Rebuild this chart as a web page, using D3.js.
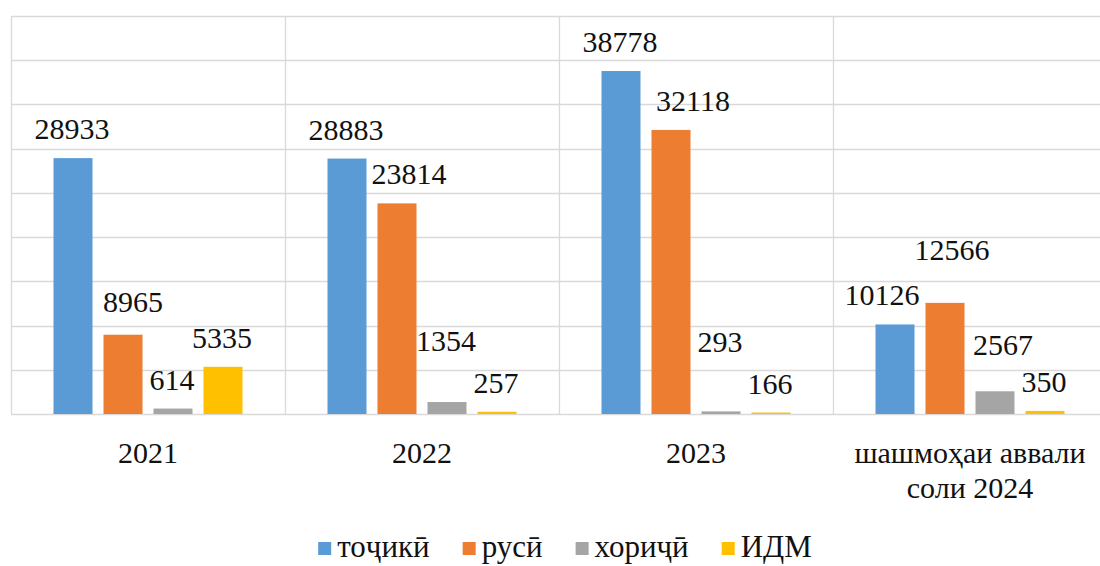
<!DOCTYPE html>
<meta charset="utf-8">
<head>
  <title>Bar chart</title>
</head>

<style>
body {
  margin: 0;
  background: #fff;
}
.grid line {
  stroke: #d9d9d9;
  stroke-width: 1.3;
}
</style>

<body>
  <svg width="1100" height="566"></svg>

  <script src="https://cdn.jsdelivr.net/npm/d3@7"></script>
  <script>
var width = 1100, height = 566
var serif = "'Liberation Serif', 'DejaVu Serif', 'Times New Roman', serif"

// data
var categories = ['2021', '2022', '2023', 'шашмоҳаи аввали соли 2024']
var categoryLines = [['2021'], ['2022'], ['2023'], ['шашмоҳаи аввали', 'соли 2024']]
var seriesNames = ['тоҷикӣ', 'русӣ', 'хориҷӣ', 'ИДМ']
var tojiki = [28933, 28883, 38778, 10126]
var rusi = [8965, 23814, 32118, 12566]
var khoriji = [614, 1354, 293, 2567]
var idm = [5335, 257, 166, 350]
var yTicks = [0, 5000, 10000, 15000, 20000, 25000, 30000, 35000, 40000, 45000]

var colors = ['#5b9bd5', '#ed7d31', '#a5a5a5', '#ffc000']
var values = [tojiki, rusi, khoriji, idm]

// hand placed label offsets in the original (category-series: [dx, dy])
var labelNudge = {
  '0-1': [11, -4],
  '1-1': [13, 0], '1-2': [0, -32],
  '2-1': [23, 0], '2-2': [0, -40],
  '3-0': [-12, 0], '3-1': [8, -24], '3-2': [9, -17]
}

var margin = {left: 11, right: -7, top: 16, bottom: 152}
var svg = d3.select('svg')
  .style('font-family', serif)

var x0 = d3.scaleBand()
  .domain(categories)
  .range([margin.left, width - margin.right])

var x1 = d3.scaleBand()
  .domain(seriesNames)
  .range([42.5, x0.bandwidth() - 42.5])
  .paddingInner(0.22)

var y = d3.scaleLinear()
  .domain([0, 45000])
  .range([height - margin.bottom, margin.top])

// gridlines
var grid = svg.append('g').attr('class', 'grid')
grid.selectAll('line.h')
  .data(yTicks)
  .enter().append('line')
  .attr('class', 'h')
  .attr('x1', margin.left)
  .attr('x2', width - margin.right)
  .attr('y1', function(d) { return Math.round(y(d)) + 0.5 })
  .attr('y2', function(d) { return Math.round(y(d)) + 0.5 })

var edges = categories.map(function(c) { return x0(c) }).concat([x0.range()[1]])
grid.selectAll('line.v')
  .data(edges)
  .enter().append('line')
  .attr('class', 'v')
  .attr('x1', function(d) { return Math.round(d) + 0.5 })
  .attr('x2', function(d) { return Math.round(d) + 0.5 })
  .attr('y1', y(45000))
  .attr('y2', y(0))

// bars
var rows = []
categories.forEach(function(c, ci) {
  seriesNames.forEach(function(s, si) {
    rows.push({c: c, ci: ci, s: s, si: si, v: values[si][ci]})
  })
})

svg.append('g')
  .selectAll('rect')
  .data(rows)
  .enter().append('rect')
  .attr('x', function(d) { return x0(d.c) + x1(d.s) })
  .attr('width', x1.bandwidth())
  .attr('y', function(d) { return y(d.v) })
  .attr('height', function(d) { return y(0) - y(d.v) })
  .attr('fill', function(d) { return colors[d.si] })

// value labels
svg.append('g')
  .selectAll('text')
  .data(rows)
  .enter().append('text')
  .style('font-family', serif)
  .attr('fill', '#111')
  .attr('text-anchor', 'middle')
  .attr('font-size', 30)
  .attr('x', function(d) {
    var n = labelNudge[d.ci + '-' + d.si] || [0, 0]
    return x0(d.c) + x1(d.s) + x1.bandwidth() / 2 - 1 + n[0]
  })
  .attr('y', function(d) {
    var n = labelNudge[d.ci + '-' + d.si] || [0, 0]
    return y(d.v) - 19 + n[1]
  })
  .text(function(d) { return d.v })

// category labels
var cat = svg.append('g')
  .selectAll('text')
  .data(categories)
  .enter().append('text')
  .style('font-family', serif)
  .attr('fill', '#111')
  .attr('text-anchor', 'middle')
  .attr('font-size', 30)
  .attr('x', function(d) { return x0(d) + x0.bandwidth() / 2 })
  .attr('y', 463)

cat.selectAll('tspan')
  .data(function(d, i) { return categoryLines[i] })
  .enter().append('tspan')
  .attr('x', function() { return d3.select(this.parentNode).attr('x') })
  .attr('dy', function(d, i) { return i === 0 ? 0 : 35 })
  .text(function(d) { return d })

// legend
var legend = svg.append('g')
var lx = 0
seriesNames.forEach(function(s, i) {
  var item = legend.append('g').attr('transform', 'translate(' + lx + ',0)')
  item.append('rect')
    .attr('x', 0)
    .attr('y', 542)
    .attr('width', 13)
    .attr('height', 13)
    .attr('fill', colors[i])
  var t = item.append('text')
    .style('font-family', serif)
    .attr('fill', '#111')
    .attr('x', 19)
    .attr('y', 557)
    .attr('font-size', 31)
    .text(s)
  lx += 19 + t.node().getComputedTextLength() + 33
})
var legendWidth = lx - 33
legend.attr('transform', 'translate(' + (565 - legendWidth / 2) + ',0)')
  </script>
</body>
</html>
